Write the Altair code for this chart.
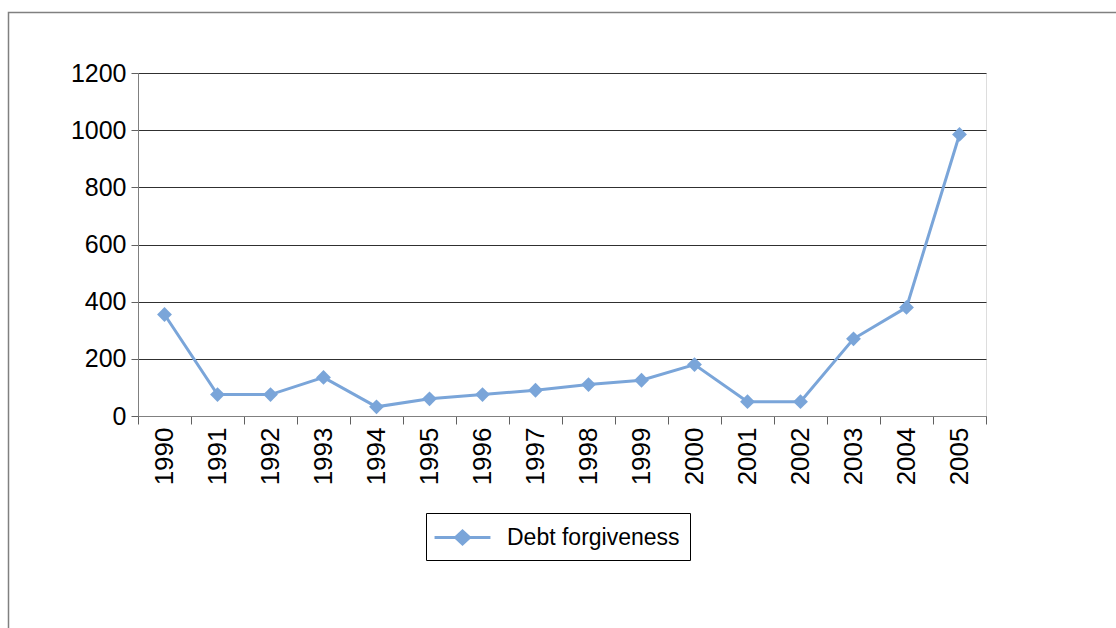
import altair as alt
import pandas as pd

years = ["1990", "1991", "1992", "1993", "1994", "1995", "1996", "1997",
         "1998", "1999", "2000", "2001", "2002", "2003", "2004", "2005"]
debt_forgiveness = [355, 75, 75, 135, 32, 60, 75, 90, 110, 125, 180, 50, 50, 270, 380, 985]
series_name = "Debt forgiveness"
y_ticks = [0, 200, 400, 600, 800, 1000, 1200]

df = pd.DataFrame({"year": years, "value": debt_forgiveness, "series": [series_name] * len(years)})

COLOR = "#7AA5D9"
FONT = "Liberation Sans"

x_enc = alt.X(
    "year:O",
    sort=years,
    bandPosition=0.5,
    scale=alt.Scale(type="band", paddingInner=0, paddingOuter=0),
    axis=alt.Axis(
        title=None, labelAngle=270, labelAlign="right", labelBaseline="middle",
        labelFontSize=26, labelFont=FONT, labelColor="#000000", labelPadding=3,
        tickBand="extent", tickSize=8, tickColor="#606060", domainColor="#808080",
        grid=False, labelOverlap=False,
    ),
)
y_enc = alt.Y(
    "value:Q",
    scale=alt.Scale(domain=[0, 1200], nice=False),
    axis=alt.Axis(
        title=None, values=y_ticks, format="d", labelFontSize=25, labelFont=FONT,
        labelColor="#000000", labelPadding=5, tickSize=7, tickColor="#606060",
        domainColor="#808080", grid=True, gridColor="#303030", gridWidth=1,
    ),
)

# legend symbol: line with a diamond in the middle (layout box 26px, drawn 56px wide)
symbol_path = "M-2.15,0H-0.54L0,-0.5L0.54,0L0,0.5L-0.54,0ZM0.54,0H2.15"

line = alt.Chart(df).mark_line(strokeWidth=3, color=COLOR).encode(
    x=x_enc,
    y=y_enc,
    color=alt.Color(
        "series:N",
        scale=alt.Scale(range=[COLOR]),
        legend=alt.Legend(
            title=None, orient="none", legendX=288, legendY=440,
            symbolType=symbol_path, symbolSize=676, symbolStrokeWidth=3,
            symbolStrokeColor=COLOR, symbolFillColor=COLOR, symbolOffset=12,
            labelFontSize=23, labelFont=FONT, labelColor="#000000",
            labelLimit=400, labelOffset=30, padding=10,
            strokeColor="#000000", fillColor="#FFFFFF",
        ),
    ),
)
points = alt.Chart(df).mark_point(
    shape="diamond", filled=True, size=220, color=COLOR, opacity=1
).encode(x=x_enc, y=y_enc)

frame = alt.Chart(pd.DataFrame({"a": [0]})).mark_rect(
    fillOpacity=0, stroke="#808080", strokeWidth=1.5
).encode(
    x=alt.value(-129.5), x2=alt.value(1000),
    y=alt.value(-60.5), y2=alt.value(620),
)

chart = alt.layer(frame, line, points).properties(
    width=848, height=343,
    autosize=alt.AutoSizeParams(type="none"),
    padding={"left": 138, "top": 73, "right": 130, "bottom": 212},
).configure_view(stroke=None).configure(background="#FFFFFF")

chart.save("out.html", embed_options={"renderer": "svg", "actions": False})
